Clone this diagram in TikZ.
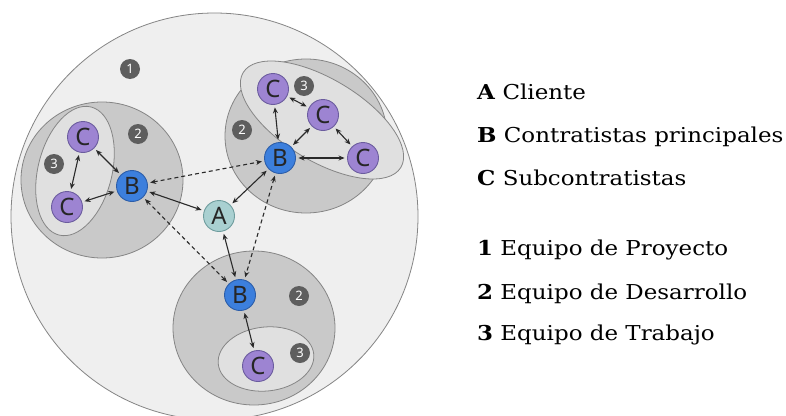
\documentclass[tikz,border=0pt]{standalone}
\usepackage{fontspec}
\setmainfont{DejaVu Serif}
\newfontfamily\legendfont[FakeStretch=1.12]{DejaVu Serif}
\newfontfamily\circlefont{Noto Sans}
\usetikzlibrary{arrows.meta}
\definecolor{outerfill}{HTML}{EFEFEF}
\definecolor{groupfill}{HTML}{C9C9C9}
\definecolor{teamfill}{HTML}{E0E0E0}
\definecolor{ringline}{HTML}{858585}
\definecolor{bfill}{HTML}{3C7FDD}
\definecolor{bline}{HTML}{2C5DA8}
\definecolor{cfill}{HTML}{9D84D2}
\definecolor{cline}{HTML}{6B5C9E}
\definecolor{afill}{HTML}{A9D0D1}
\definecolor{aline}{HTML}{6E9C9D}
\definecolor{badgefill}{HTML}{5E5E5E}
\definecolor{linkcol}{HTML}{2A2A2A}
\tikzset{
  ring/.style={draw=ringline, line width=0.8pt},
  actor/.style={circle, minimum size=31pt, inner sep=0pt, line width=0.9pt,
    font=\circlefont\fontsize{24}{24}\selectfont, text=black!85},
  client/.style={actor, fill=afill, draw=aline},
  prime/.style={actor, fill=bfill, draw=bline},
  sub/.style={actor, fill=cfill, draw=cline},
  badge/.style={circle, fill=badgefill, minimum size=20pt, inner sep=0pt,
    text=white, font=\circlefont\bfseries\fontsize{13}{13}\selectfont},
  link/.style={draw=linkcol, line width=1.1pt,
    {Stealth[length=6pt,width=5pt]}-{Stealth[length=6pt,width=5pt]},
    shorten <=2.5pt, shorten >=2.5pt},
  peer/.style={link, dash pattern=on 4pt off 3pt},
  legend/.style={anchor=base west, inner sep=0pt,
    font=\legendfont\fontsize{20.5}{20.5}\selectfont}
}
\begin{document}
\begin{tikzpicture}[x=1pt, y=-1pt]
\useasboundingbox (0,0) rectangle (786,415);
\fill[white] (0,0) rectangle (786,415);

% project team
\filldraw[ring, fill=outerfill] (214.5,216.5) circle[radius=203.5];

% development teams
\filldraw[ring, fill=groupfill] (102,180) circle[x radius=81, y radius=78];
\filldraw[ring, fill=groupfill] (306,136) circle[x radius=81, y radius=77];
\filldraw[ring, fill=groupfill] (254,328) circle[x radius=81, y radius=77];

% work teams
\filldraw[ring, fill=teamfill] (75,171) circle[x radius=37, y radius=66, rotate=-14];
\filldraw[ring, fill=teamfill] (322,120) circle[x radius=92, y radius=41, rotate=-31];
\filldraw[ring, fill=teamfill] (266,359) circle[x radius=48, y radius=32, rotate=6];

% actors
\node[client] (A) at (219,216) {A};
\node[prime] (B1) at (132,186) {B};
\node[prime] (B2) at (280,158) {B};
\node[prime] (B3) at (240,295) {B};
\node[sub] (C11) at (83,137) {C};
\node[sub] (C12) at (67,207) {C};
\node[sub] (C21) at (273,89) {C};
\node[sub] (C22) at (323,115) {C};
\node[sub] (C23) at (363,158) {C};
\node[sub] (C31) at (258,366) {C};

% badges
\node[badge] (n1) at (130,69) {1};
\node[badge] (n2a) at (138,134) {2};
\node[badge] (n2b) at (242,130) {2};
\node[badge] (n2c) at (299,296) {2};
\node[badge] (n3a) at (54,164) {3};
\node[badge] (n3b) at (304,86) {3};
\node[badge] (n3c) at (300,353) {3};

% client to main contractors
\draw[link] (A) -- (B1);
\draw[link] (A) -- (B2);
\draw[link] (A) -- (B3);

% between main contractors
\draw[peer] (B1) -- (B2);
\draw[peer] (B1) -- (B3);
\draw[peer] (B2) -- (B3);

% subcontractors
\draw[link] (C11) -- (B1);
\draw[link] (C12) -- (B1);
\draw[link] (C11) -- (C12);
\draw[link] (C21) -- (B2);
\draw[link] (C22) -- (B2);
\draw[link] (C23) -- (B2);
\draw[link] (C21) -- (C22);
\draw[link] (C22) -- (C23);
\draw[link] (B3) -- (C31);

% legend
\node[legend] (LA) at (477,99) {\textbf{A} Cliente};
\node[legend] (LB) at (477,142) {\textbf{B} Contratistas principales};
\node[legend] (LC) at (477,185) {\textbf{C} Subcontratistas};
\node[legend] (L1) at (477,255) {\textbf{1} Equipo de Proyecto};
\node[legend] (L2) at (477,299) {\textbf{2} Equipo de Desarrollo};
\node[legend] (L3) at (477,340) {\textbf{3} Equipo de Trabajo};
\end{tikzpicture}
\end{document}
